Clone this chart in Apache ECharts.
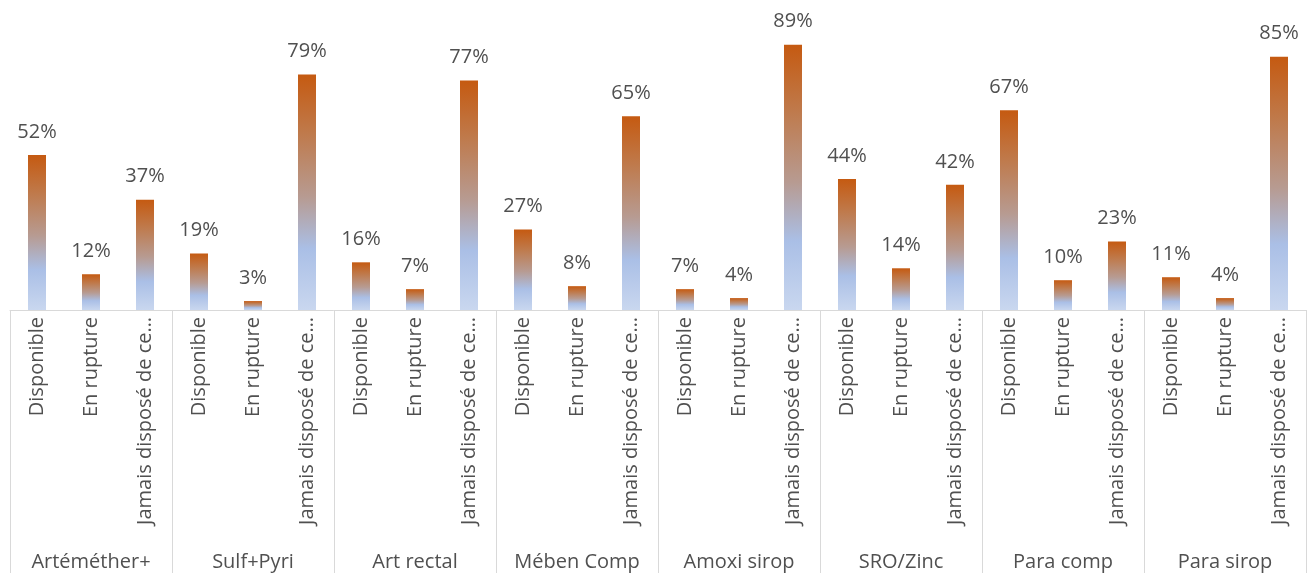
<!DOCTYPE html>
<html>
<head>
<meta charset="utf-8">
<script src="https://cdn.jsdelivr.net/npm/echarts@6/dist/echarts.min.js"></script>
<style>
  html, body { margin: 0; padding: 0; background: #ffffff; }
  #chart { width: 1313px; height: 573px; }
</style>
</head>
<body>
<div id="chart"></div>
<script>
// Products (outer axis level) and availability status (inner axis level)
const products = ['Artéméther+', 'Sulf+Pyri', 'Art rectal', 'Mében Comp', 'Amoxi sirop', 'SRO/Zinc', 'Para comp', 'Para sirop'];
const statuses = ['Disponible', 'En rupture', 'Jamais disposé de ce produit'];

// Share of facilities (%) per product, in status order
const disponible = [52, 19, 16, 27, 7, 44, 67, 11];
const enRupture = [12, 3, 7, 8, 4, 14, 10, 4];
const jamaisDispose = [37, 79, 77, 65, 89, 42, 23, 85];

// Flatten into one category per (product, status) pair
const categories = [];
const values = [];
products.forEach((p, i) => {
  categories.push(statuses[0], statuses[1], statuses[2]);
  values.push(disponible[i], enRupture[i], jamaisDispose[i]);
});

const FONT = '"Open Sans", "Noto Sans", sans-serif';
const TEXT = '#505050';
const RULE = '#d9d9d9';

const barFill = new echarts.graphic.LinearGradient(0, 0, 0, 1, [
  { offset: 0, color: '#c55a11' },
  { offset: 0.25, color: '#bf7a4c' },
  { offset: 0.52, color: '#b79b92' },
  { offset: 0.74, color: '#aabfe6' },
  { offset: 1, color: '#c9d7ef' }
]);

const chart = echarts.init(document.getElementById('chart'));
chart.setOption({
  animation: false,
  grid: { left: 10, right: 7, top: 12, bottom: 263, containLabel: false },
  xAxis: [
    {
      type: 'category',
      data: categories,
      boundaryGap: true,
      axisLine: { show: true, lineStyle: { color: RULE, width: 1 } },
      axisTick: { show: false },
      axisLabel: {
        rotate: 90,
        margin: 7,
        interval: 0,
        color: TEXT,
        fontFamily: FONT,
        fontSize: 20,
        width: 214,
        overflow: 'truncate',
        ellipsis: '…'
      }
    },
    {
      type: 'category',
      data: products,
      position: 'bottom',
      boundaryGap: true,
      axisLine: { show: false },
      axisTick: { show: true, length: 263, interval: 0, lineStyle: { color: RULE, width: 1 } },
      axisLabel: {
        interval: 0,
        margin: 242,
        color: TEXT,
        fontFamily: FONT,
        fontSize: 20
      }
    }
  ],
  yAxis: { type: 'value', min: 0, max: 100, show: false },
  series: [
    {
      type: 'bar',
      xAxisIndex: 0,
      data: values,
      barWidth: 18,
      itemStyle: { color: barFill },
      label: {
        show: true,
        position: 'top',
        distance: 13,
        formatter: '{c}%',
        color: TEXT,
        fontFamily: FONT,
        fontSize: 20
      }
    }
  ]
});
</script>
</body>
</html>
